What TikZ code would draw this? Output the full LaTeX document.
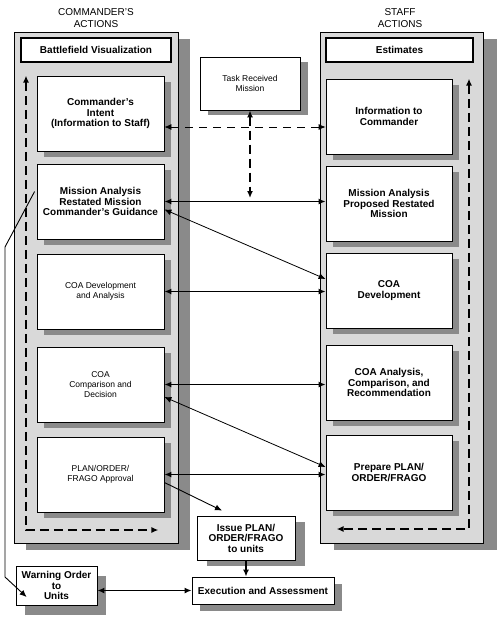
\documentclass[tikz,border=0pt]{standalone}
\usepackage{fontspec}
\setmainfont{Liberation Sans}
\usetikzlibrary{arrows.meta,shadows}
\tikzset{
  w px/.style={x=1pt, y=-1pt},
  w shade/.style 2 args={drop shadow={shadow xshift=#1, shadow yshift=-#2, fill=gray!92, opacity=1}},
  w panel/.style={draw, line width=0.8pt, fill=gray!30, inner sep=0pt},
  w box/.style={draw, line width=0.8pt, fill=white, inner sep=1pt, align=center},
  w bar/.style={w box, line width=1.6pt},
  w bold/.style={font=\fontsize{10}{10.5}\selectfont\bfseries},
  w plain/.style={font=\fontsize{8.5}{10}\selectfont},
  w head/.style={align=center, font=\fontsize{10}{12}\selectfont},
  w arr/.style={-{Latex[length=7pt,width=6pt]}, line width=1.6pt},
  w dbl/.style={{Latex[length=7pt,width=6pt]}-{Latex[length=7pt,width=6pt]}, line width=1.6pt},
  w slant/.style={{Latex[length=7pt,width=6pt]}-{Latex[length=7pt,width=6pt]}, line width=0.8pt},
  w slant arr/.style={-{Latex[length=7pt,width=6pt]}, line width=0.9pt},
  w dash/.style={{Latex[length=7pt,width=6pt]}-{Latex[length=7pt,width=6pt]}, line width=1.6pt, dash pattern=on 9pt off 5pt},
  w fine/.style={{Latex[length=7pt,width=6pt]}-{Latex[length=7pt,width=6pt]}, line width=0.8pt, dash pattern=on 8pt off 6pt},
}
\begin{document}
\begin{tikzpicture}[w px]
\useasboundingbox (0,0) rectangle (501,624);
\node[w head] (ch) at (96,18) {COMMANDER'S\\ACTIONS};
\node[w head] (sh) at (400,18) {STAFF\\ACTIONS};
% columns
\node[w panel, w shade={12pt}{7pt}, minimum width=164pt, minimum height=511pt] (lp) at (96,287.5) {};
\node[w panel, w shade={14pt}{7pt}, minimum width=163pt, minimum height=511pt] (rp) at (401.5,287.5) {};
\node[w bar, w bold, minimum width=150pt, minimum height=24pt] (bv) at (96,50) {Battlefield Visualization};
\node[w bar, w bold, minimum width=147pt, minimum height=24pt] (es) at (399.5,50) {Estimates};
% commander
\node[w box, w bold, w shade={7pt}{6pt}, minimum width=127pt, minimum height=75pt] (iA) at (100.5,113.5) {Commander's\\Intent\\(Information to Staff)};
\node[w box, w bold, w shade={7pt}{6pt}, minimum width=127pt, minimum height=75pt] (mA) at (100.5,201.5) {Mission Analysis\\Restated Mission\\Commander's Guidance};
\node[w box, w plain, w shade={7pt}{6pt}, minimum width=127pt, minimum height=75pt] (cA) at (100.5,291.5) {COA Development\\and Analysis};
\node[w box, w plain, w shade={7pt}{6pt}, minimum width=127pt, minimum height=75pt] (dA) at (100.5,384.5) {COA\\Comparison and\\Decision};
\node[w box, w plain, w shade={7pt}{6pt}, minimum width=127pt, minimum height=75pt] (pA) at (100.5,474.5) {PLAN/ORDER/\\FRAGO Approval};
% staff
\node[w box, w bold, w shade={7pt}{6pt}, minimum width=126pt, minimum height=75pt] (iB) at (389,116.5) {Information to\\Commander};
\node[w box, w bold, w shade={7pt}{6pt}, minimum width=126pt, minimum height=75pt] (mB) at (389,203.5) {Mission Analysis\\Proposed Restated\\Mission};
\node[w box, w bold, w shade={7pt}{6pt}, minimum width=126pt, minimum height=75pt] (cB) at (389,290.5) {COA\\Development};
\node[w box, w bold, w shade={7pt}{6pt}, minimum width=126pt, minimum height=75pt] (dB) at (389,382.5) {COA Analysis,\\Comparison, and\\Recommendation};
\node[w box, w bold, w shade={7pt}{6pt}, minimum width=126pt, minimum height=75pt] (pB) at (389,472.5) {Prepare PLAN/\\ORDER/FRAGO};
% outside
\node[w box, w plain, w shade={8pt}{5pt}, minimum width=100pt, minimum height=53pt] (tk) at (250,83.5) {Task Received\\Mission};
\node[w box, w bold, w shade={10pt}{6pt}, minimum width=98pt, minimum height=44pt] (is) at (246,538) {Issue PLAN/\\ORDER/FRAGO\\to units};
\node[w box, w bold, w shade={8pt}{7pt}, minimum width=142pt, minimum height=27pt] (ex) at (263,590.5) {Execution and Assessment};
\node[w box, w bold, w shade={9pt}{10pt}, minimum width=81pt, minimum height=39pt] (wo) at (56.5,585.5) {Warning Order\\to\\Units};
\coordinate (lc) at (26,530); \coordinate (rc) at (469,529); \coordinate (wk) at (5,247);
\draw[w dash] (lc |- iA.north) -- (lc) -- ([xshift=-6pt]lc -| pA.east);
\draw[w dash] (rc |- iB.north) -- (rc) -- ([xshift=11pt]rc -| pB.west);
\draw[w fine] ([yshift=-13.5pt]iA.east) -- ([yshift=-13.5pt]iA.east -| iB.west);
\draw[w dash] (tk.south) -- ([yshift=3.5pt]tk.south |- mA.east);
\draw[w dbl] (mA.east) -- (mA.east -| mB.west); \draw[w slant] ([yshift=-8pt]mA.east) -- ([yshift=11.5pt]cB.west);
\draw[w dbl] (cA.east) -- (cA.east -| cB.west);
\draw[w dbl] (dA.east) -- (dA.east -| dB.west); \draw[w slant] ([yshift=-12.5pt]dA.east) -- ([yshift=5.5pt]pB.west);
\draw[w dbl] (pA.east) -- (pA.east -| pB.west);
\draw[w slant arr] ([yshift=-8pt]pA.east) -- ([xshift=-24pt,yshift=5pt]is.north);
\draw[w arr] (is.south) -- (is.south |- ex.north);
\draw[w dbl] (ex.west -| wo.east) -- (ex.west);
\draw[w slant arr] ([xshift=-2pt,yshift=10pt]mA.west) -- (wk) -- ++(0,330) -- ([xshift=11pt,yshift=-11.5pt]wo.west);
\end{tikzpicture}
\end{document}
